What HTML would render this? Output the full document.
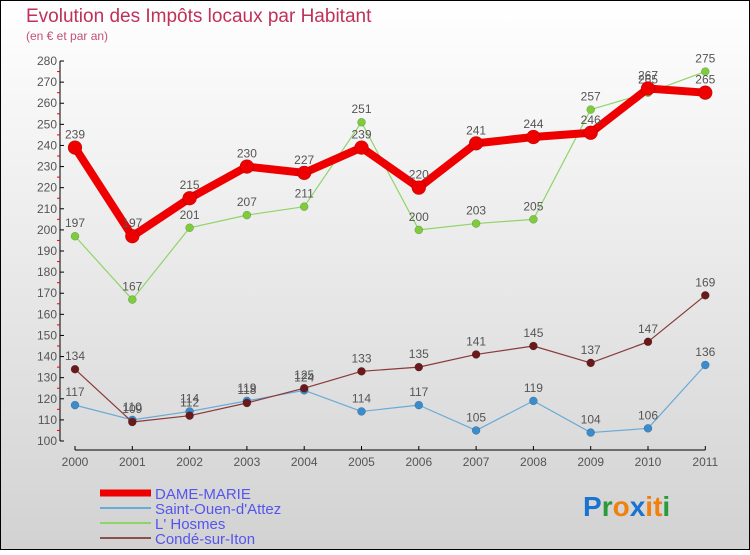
<!DOCTYPE html>
<html><head><meta charset="utf-8"><style>
body{margin:0}
#c{width:750px;height:550px;position:relative;font-family:"Liberation Sans","DejaVu Sans",sans-serif;}
</style></head><body>
<div id="c">
<svg id="s" width="750" height="550" xmlns="http://www.w3.org/2000/svg">
<defs><linearGradient id="bg" x1="0" y1="0" x2="0" y2="1"><stop offset="0" stop-color="#ffffff"/><stop offset="1" stop-color="#d2d2d2"/></linearGradient></defs>
<rect x="0.5" y="0.5" width="749" height="549" fill="url(#bg)" stroke="#000"/>
<text x="26" y="22" font-size="19" fill="#c0305a">Evolution des Impôts locaux par Habitant</text>
<text x="26" y="40" font-size="12" fill="#c0507a">(en € et par an)</text>
<g id="axes"></g><g id="marks"></g><g id="legend"></g>
<text x="583" y="516" font-size="28" font-weight="bold" fill="#1a73d0"><tspan fill="#1a73d0">P</tspan><tspan fill="#2a9a3a">r</tspan><tspan fill="#f08010">o</tspan><tspan fill="#1a73d0">x</tspan><tspan fill="#f08010">i</tspan><tspan fill="#f08010">t</tspan><tspan fill="#2a9a3a">i</tspan></text>
</svg>
</div>
<script>
const years=["2000","2001","2002","2003","2004","2005","2006","2007","2008","2009","2010","2011"];
const yTicks=[100,110,120,130,140,150,160,170,180,190,200,210,220,230,240,250,260,270,280];
const dame=[239,197,215,230,227,239,220,241,244,246,267,265];
const saint=[117,110,114,119,124,114,117,105,119,104,106,136];
const hosmes=[197,167,201,207,211,251,200,203,205,257,265,275];
const conde=[134,109,112,118,125,133,135,141,145,137,147,169];
const NS="http://www.w3.org/2000/svg";
function X(i){return 75+i*57.3;}
function Y(v){return 441-(v-100)*2.111;}
function mk(t,a,p){const e=document.createElementNS(NS,t);for(const k in a)e.setAttribute(k,a[k]);p.appendChild(e);return e;}
const ax=document.getElementById('axes'),mg=document.getElementById('marks'),lg=document.getElementById('legend');
let l=mk('line',{x1:60,y1:Y(280),x2:60,y2:441,stroke:'#000'},ax);


yTicks.forEach(v=>{const t=mk('line',{x1:60,x2:64,y1:Y(v),y2:Y(v),stroke:'#000'},ax);


if(v<280){const r=mk('line',{x1:57,x2:60,y1:Y(v+5),y2:Y(v+5),stroke:'#e00'},ax);

}
const tx=mk('text',{x:57,y:Y(v)+4,'font-size':12,'text-anchor':'end',fill:'#555'},ax);tx.textContent=v;

});
l=mk('line',{x1:X(0),y1:450,x2:X(11),y2:450,stroke:'#000'},ax);


years.forEach((y,i)=>{const t=mk('line',{x1:X(i),x2:X(i),y1:446,y2:450,stroke:'#000'},ax);


const tx=mk('text',{x:X(i),y:466,'font-size':12,'text-anchor':'middle',fill:'#555'},ax);tx.textContent=y;

});
function series(vals,col,dot,w,r,name){
const g=mk('g',{},mg);


const p=mk('polyline',{points:vals.map((v,i)=>X(i)+','+Y(v)).join(' '),fill:'none',stroke:col,'stroke-width':w,'stroke-linejoin':'round'},g);


vals.forEach((v,i)=>{const c=mk('circle',{cx:X(i),cy:Y(v),r:r,fill:dot,stroke:'rgba(0,0,0,0.3)','stroke-width':0.5},g);


const t=mk('text',{x:X(i),y:Y(v)-9,'font-size':12,'text-anchor':'middle',fill:'#555'},g);t.textContent=v;

});}
series(hosmes,'#8fd468','#7ccc3c',1.2,4,'l-hosmes');
series(saint,'#6aaad8','#3a8ccc',1.2,4,'saint-ouen');
series(conde,'#8a3a3a','#6a1a1a',1.2,4,'conde-sur-iton');
series(dame,'#ee0000','#ee0000',8,7,'dame-marie');
const names=["DAME-MARIE","Saint-Ouen-d'Attez","L' Hosmes","Condé-sur-Iton"];
const cols=['#ee0000','#6aaad8','#8fd468','#8a5050'],ws=[7,2,2,2];
names.forEach((n,i)=>{const y=493+i*15;
const li=mk('line',{x1:100,x2:151,y1:y,y2:y,stroke:cols[i],'stroke-width':ws[i]},lg);


const t=mk('text',{x:155,y:y+6,'font-size':15,fill:'#5555ee'},lg);t.textContent=n;

});
</script>
</body></html>
